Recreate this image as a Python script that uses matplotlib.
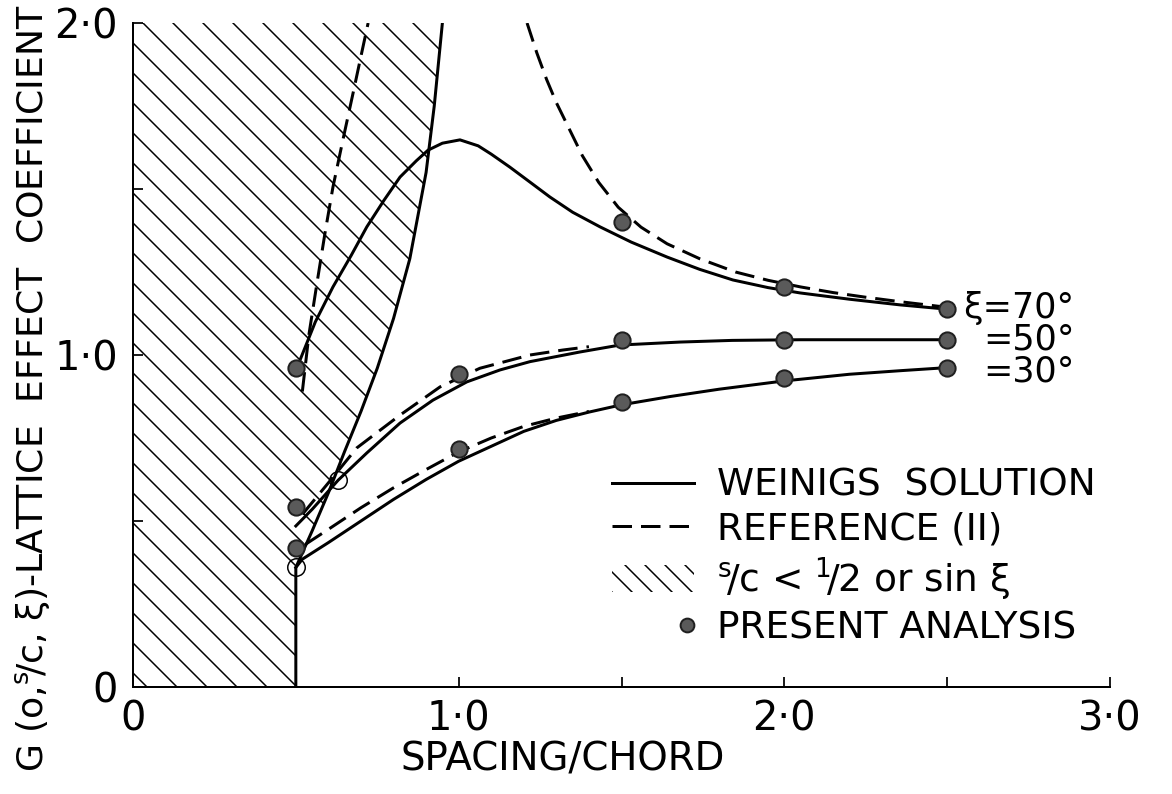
import matplotlib
matplotlib.use('Agg')
import matplotlib.pyplot as plt
from matplotlib.lines import Line2D
from matplotlib.patches import Patch
from matplotlib.legend_handler import HandlerLine2D

plt.rcParams['font.family'] = ['DejaVu Sans']
plt.rcParams['mathtext.fontset'] = 'dejavusans'
plt.rcParams['mathtext.default'] = 'regular'
plt.rcParams['hatch.linewidth'] = 0.6

# boundary of the hatched region  s/c < 1/2 or sin xi
bound_x = [0.5, 0.5, 0.55, 0.6, 0.65, 0.7, 0.75, 0.8, 0.85, 0.9, 0.925, 0.94, 0.95]
bound_y = [0.0, 0.36, 0.47, 0.585, 0.71, 0.83, 0.96, 1.11, 1.29, 1.55, 1.75, 1.90, 2.0]

# Weinig solution (solid)
w70_x = [0.515, 0.56, 0.614, 0.67, 0.718, 0.77, 0.82, 0.87, 0.906, 0.95, 1.004, 1.06, 1.10,
         1.157, 1.22, 1.28, 1.35, 1.434, 1.53, 1.64, 1.74, 1.842, 1.95, 2.048, 2.2, 2.355, 2.5]
w70_y = [0.99, 1.10, 1.205, 1.30, 1.386, 1.465, 1.536, 1.585, 1.617, 1.638, 1.648, 1.63, 1.605,
         1.566, 1.52, 1.476, 1.43, 1.386, 1.34, 1.295, 1.258, 1.226, 1.203, 1.187, 1.168, 1.151, 1.138]
w50_x = [0.5, 0.55, 0.63, 0.718, 0.82, 0.921, 1.025, 1.127, 1.219, 1.372, 1.495, 1.68, 1.84, 2.05, 2.355, 2.5]
w50_y = [0.485, 0.535, 0.623, 0.705, 0.795, 0.864, 0.919, 0.955, 0.98, 1.009, 1.03, 1.039, 1.044, 1.046, 1.046, 1.046]
w30_x = [0.5, 0.52, 0.6, 0.7, 0.8, 0.9, 1.0, 1.1, 1.2, 1.3, 1.4, 1.5, 1.65, 1.8, 2.0, 2.2, 2.36, 2.5]
w30_y = [0.36, 0.385, 0.435, 0.50, 0.565, 0.625, 0.68, 0.725, 0.77, 0.803, 0.828, 0.85, 0.875, 0.897,
         0.922, 0.942, 0.953, 0.962]

# Reference (II) (dashed)
r70a_x = [0.52, 0.54, 0.565, 0.59, 0.614, 0.645, 0.676, 0.70, 0.722]
r70a_y = [0.89, 1.06, 1.217, 1.37, 1.506, 1.65, 1.79, 1.90, 2.0]
r70b_x = [1.21, 1.24, 1.27, 1.30, 1.34, 1.38, 1.43, 1.49, 1.56, 1.64, 1.74, 1.85, 1.95,
          2.05, 2.15, 2.25, 2.36, 2.48]
r70b_y = [2.0, 1.91, 1.83, 1.76, 1.68, 1.60, 1.52, 1.445, 1.385, 1.335, 1.29, 1.25, 1.225,
          1.205, 1.188, 1.174, 1.160, 1.146]
r50_x = [0.52, 0.60, 0.687, 0.82, 0.943, 1.065, 1.219, 1.32, 1.40]
r50_y = [0.52, 0.615, 0.72, 0.819, 0.904, 0.96, 1.0, 1.015, 1.025]
r30_x = [0.53, 0.6, 0.7, 0.8, 0.9, 1.0, 1.1, 1.2, 1.3, 1.4]
r30_y = [0.43, 0.475, 0.54, 0.60, 0.655, 0.708, 0.75, 0.785, 0.81, 0.83]

# Present analysis (points)
p70_x = [0.5, 1.5, 2.0, 2.5]
p70_y = [0.96, 1.40, 1.205, 1.138]
p50_x = [0.5, 1.0, 1.5, 2.0, 2.5]
p50_y = [0.542, 0.943, 1.046, 1.046, 1.046]
p30_x = [0.5, 1.0, 1.5, 2.0, 2.5]
p30_y = [0.42, 0.717, 0.858, 0.93, 0.962]

# open circles where the solution meets the boundary
open_x = [0.5, 0.63]
open_y = [0.36, 0.623]

curve_labels = ['ξ=70°', '=50°', '=30°']
xticks = [0, 1, 2, 3]
xticklabels = ['0', '1·0', '2·0', '3·0']
yticks = [0, 1, 2]
yticklabels = ['0', '1·0', '2·0']


class RightDot(HandlerLine2D):
    # put the single legend marker at the right end of the handle
    def get_xdata(self, legend, xdescent, ydescent, width, height, fontsize):
        x = width - xdescent - 0.2 * fontsize
        return [x, x], [x]


W, H, DPI = 1172, 794, 180
fig = plt.figure(figsize=(W / DPI, H / DPI), dpi=DPI)
ax = fig.add_axes([133 / W, (H - 687) / H, (1110 - 133) / W, (687 - 23) / H])

lw = 1.2
dash = (6.5, 3)

ax.fill_betweenx(bound_y, 0, bound_x, facecolor='none', edgecolor='black', linewidth=0,
                 hatch='\\\\', zorder=1)
ax.plot(bound_x, bound_y, color='black', lw=lw, zorder=2)

for x, y in [(w70_x, w70_y), (w50_x, w50_y), (w30_x, w30_y)]:
    ax.plot(x, y, color='black', lw=lw, zorder=3)
for x, y in [(r70a_x, r70a_y), (r70b_x, r70b_y), (r50_x, r50_y), (r30_x, r30_y)]:
    ax.plot(x, y, color='black', lw=lw, dashes=dash, zorder=3)

for x, y in [(p70_x, p70_y), (p50_x, p50_y), (p30_x, p30_y)]:
    ax.plot(x, y, linestyle='none', marker='o', ms=6.5, mfc='#5a5a5a', mec='#202020',
            mew=0.8, zorder=4)
ax.plot(open_x, open_y, linestyle='none', marker='o', ms=7, mfc='none', mec='black',
        mew=0.6, zorder=4)

# the three angle labels as one right-aligned block
ax.text(2.55, p50_y[-1], '\n'.join(curve_labels), fontsize=14, va='center', ha='left',
        multialignment='right', linespacing=0.92)

ax.set_xlim(0, 3)
ax.set_ylim(0, 2)
ax.set_xticks(xticks)
ax.set_xticklabels(xticklabels, fontsize=16)
ax.set_xticks([0.5, 1.5, 2.5], minor=True)
ax.set_yticks(yticks)
ax.set_yticklabels(yticklabels, fontsize=16)
ax.set_yticks([0.5, 1.5], minor=True)
ax.tick_params(which='both', direction='in', length=4, width=0.7)
ax.tick_params(axis='x', pad=5)
ax.tick_params(axis='y', pad=6)
for s in ['top', 'right']:
    ax.spines[s].set_visible(False)
for s in ['left', 'bottom']:
    ax.spines[s].set_linewidth(0.8)

ax.set_xlabel('SPACING/CHORD', fontsize=15.5)
ax.xaxis.set_label_coords(0.44, -0.08)
ax.set_ylabel(r'G (o,${}^{s}\!/c$, ξ)-LATTICE  EFFECT  COEFFICIENT', fontsize=14.5)
ax.yaxis.set_label_coords(-0.083, 0.45)

dot = Line2D([], [], linestyle='none', marker='o', ms=5.5, mfc='#5a5a5a', mec='#202020', mew=0.8)
handles = [
    Line2D([], [], color='black', lw=lw),
    Line2D([], [], color='black', lw=lw, dashes=dash),
    Patch(facecolor='none', edgecolor='black', linewidth=0, hatch='\\\\\\'),
    dot,
]
labels = ['WEINIGS  SOLUTION', 'REFERENCE (II)', r'${}^{s}\!/c$ < ${}^{1}\!/2$ or sin ξ',
          'PRESENT ANALYSIS']
ax.legend(handles, labels, loc='upper left', bbox_to_anchor=(0.49, 0.33), frameon=False,
          fontsize=15, handlelength=2.2, handletextpad=0.6, labelspacing=0.2,
          borderpad=0, borderaxespad=0, handler_map={dot: RightDot()})

fig.savefig('out.png', dpi=DPI)
